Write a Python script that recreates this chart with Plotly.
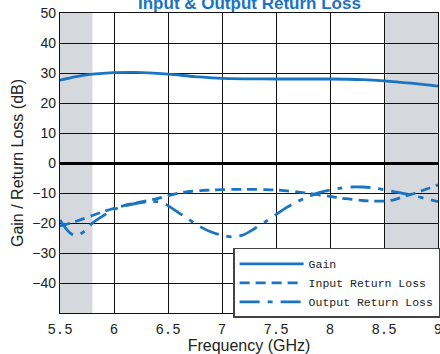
import plotly.graph_objects as go

# ---- data ----
gain_freq = [5.5, 5.65, 5.8, 6.0, 6.2, 6.5, 6.75, 7.0, 7.5, 8.0, 8.3, 8.5, 8.75, 9.0]
gain_db = [27.6, 28.8, 29.6, 30.1, 30.2, 29.6, 28.8, 28.2, 28.0, 28.0, 27.8, 27.4, 26.6, 25.6]

irl_freq = [5.5, 5.6, 5.7, 5.8, 5.9, 6.0, 6.1, 6.2, 6.3, 6.4, 6.5, 6.6, 6.7, 6.8, 6.9, 7.0,
            7.1, 7.2, 7.3, 7.4, 7.5, 7.6, 7.7, 7.8, 7.9, 8.0, 8.1, 8.2, 8.3, 8.4, 8.5,
            8.6, 8.7, 8.8, 8.9, 9.0]
irl_db = [-21.0, -20.0, -18.8, -17.5, -16.2, -15.1, -14.1, -13.3, -12.6, -11.9, -10.9,
          -10.0, -9.5, -9.2, -9.0, -8.9, -8.8, -8.8, -8.8, -8.9, -9.0, -9.3, -9.6, -10.1,
          -10.6, -11.1, -11.7, -12.1, -12.5, -12.7, -12.7, -12.2, -11.0, -9.9, -8.6, -7.3]

orl_freq = [5.5, 5.55, 5.6, 5.65, 5.7, 5.75, 5.8, 5.9, 6.0, 6.1, 6.2, 6.3, 6.4, 6.45, 6.5,
            6.6, 6.7, 6.8, 6.9, 7.0, 7.1, 7.2, 7.3, 7.4, 7.5, 7.6, 7.7, 7.8, 7.9, 8.0,
            8.1, 8.2, 8.3, 8.4, 8.5, 8.6, 8.7, 8.8, 8.9, 9.0]
orl_db = [-19.0, -21.6, -23.5, -24.3, -23.4, -22.0, -20.0, -17.6, -15.5, -14.3, -13.5,
          -13.0, -12.9, -13.3, -14.2, -16.6, -19.0, -21.3, -23.0, -24.1, -24.6, -23.9,
          -21.9, -19.6, -17.2, -14.8, -12.8, -11.2, -9.9, -9.0, -8.4, -8.0, -8.0, -8.3,
          -8.9, -9.6, -10.3, -11.1, -12.0, -12.9]

shaded_bands = [(5.5, 5.8), (8.5, 9.0)]
x_ticks = [5.5, 6.0, 6.5, 7.0, 7.5, 8.0, 8.5, 9.0]
x_ticklabels = ["5.5", "6", "6.5", "7", "7.5", "8", "8.5", "9"]
y_ticks = [-40, -30, -20, -10, 0, 10, 20, 30, 40, 50]

BLUE = "#1a74c4"
MONO = "Liberation Mono, DejaVu Sans Mono, monospace"
SANS = "Liberation Sans, Arial, sans-serif"

fig = go.Figure()
fig.add_trace(go.Scatter(x=gain_freq, y=gain_db, mode="lines", name="Gain",
                         line=dict(color=BLUE, width=2.8, shape="spline", smoothing=1.0)))
fig.add_trace(go.Scatter(x=irl_freq, y=irl_db, mode="lines", name="Input Return Loss",
                         line=dict(color=BLUE, width=2.8, dash="10px,6px",
                                   shape="spline", smoothing=0.8)))
fig.add_trace(go.Scatter(x=orl_freq, y=orl_db, mode="lines", name="Output Return Loss",
                         line=dict(color=BLUE, width=2.8, dash="20px,8px,5px,8px",
                                   shape="spline", smoothing=0.8)))

for x0, x1 in shaded_bands:
    fig.add_shape(type="rect", xref="x", yref="paper", x0=x0, x1=x1, y0=0, y1=1,
                  fillcolor="#d5d8dd", line_width=0, layer="below")

fig.add_annotation(text="<b>Input & Output Return Loss</b>", xref="paper", yref="paper",
                   x=0.5, y=1, yanchor="bottom", yshift=-2, showarrow=False,
                   font=dict(family=SANS, size=17, color=BLUE))

fig.update_layout(
    width=440, height=354,
    margin=dict(l=60, r=2, t=13, b=41, autoexpand=False),
    paper_bgcolor="white", plot_bgcolor="white",
    showlegend=True,
    legend=dict(x=0.458, y=0.217, xanchor="left", yanchor="top",
                bgcolor="white", bordercolor="#444444", borderwidth=1.5,
                font=dict(family=MONO, size=11.5, color="#222"),
                itemwidth=64, tracegroupgap=0),
    xaxis=dict(range=[5.5, 9.0], tickvals=x_ticks, ticktext=x_ticklabels,
               automargin=False, ticklabeloverflow="allow",
               showgrid=True, gridcolor="#111", gridwidth=1.3,
               showline=True, linecolor="#111", linewidth=1.3, mirror=True,
               zeroline=False, ticks="", ticklabelstandoff=3,
               tickfont=dict(family=MONO, size=14, color="#222"),
               title=dict(text="Frequency (GHz)", standoff=4,
                          font=dict(family=SANS, size=16, color="#222"))),
    yaxis=dict(range=[-50, 50], tickvals=y_ticks, automargin=False,
               showgrid=True, gridcolor="#111", gridwidth=1.3,
               showline=True, linecolor="#111", linewidth=1.3, mirror=True,
               zeroline=True, zerolinecolor="#000", zerolinewidth=2.6, ticks="",
               tickfont=dict(family=SANS, size=14, color="#222"),
               title=dict(text="Gain / Return Loss (dB)", standoff=4,
                          font=dict(family=SANS, size=16, color="#222"))),
)

fig.write_html("out.html", config={"displayModeBar": False},
               post_script="document.body.style.margin='0';document.body.style.overflow='hidden';")
